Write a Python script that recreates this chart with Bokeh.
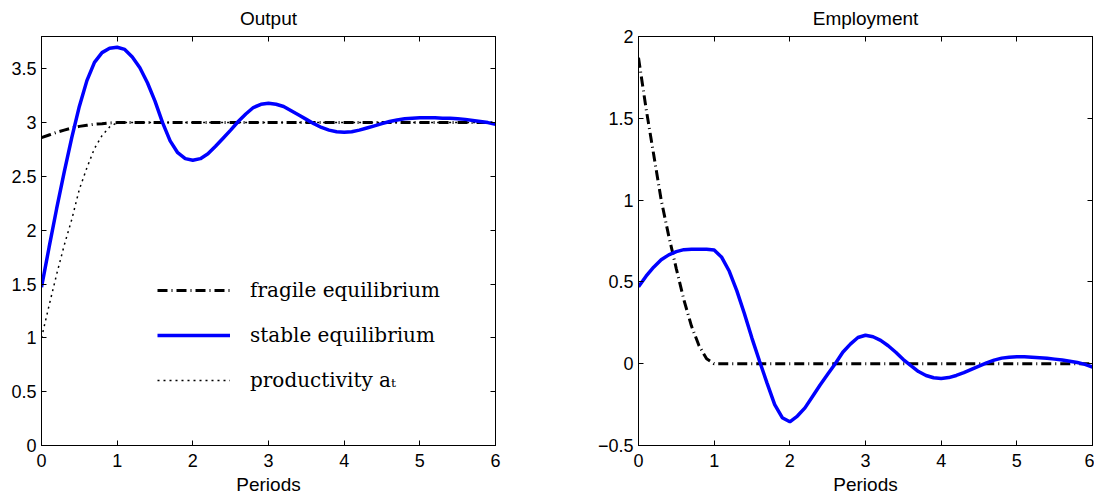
from bokeh.plotting import figure
from bokeh.models import LinearAxis, FixedTicker, Legend, LegendItem, Range1d
from bokeh.layouts import row
from bokeh.embed import file_html
from bokeh.resources import INLINE

# ---------------- data ----------------
periods = [0.0, 0.1, 0.2, 0.3, 0.4, 0.5, 0.6, 0.7, 0.8, 0.9,
           1.0, 1.1, 1.2, 1.3, 1.4, 1.5, 1.6, 1.7, 1.8, 1.9,
           2.0, 2.1, 2.2, 2.3, 2.4, 2.5, 2.6, 2.7, 2.8, 2.9,
           3.0, 3.1, 3.2, 3.3, 3.4, 3.5, 3.6, 3.7, 3.8, 3.9,
           4.0, 4.1, 4.2, 4.3, 4.4, 4.5, 4.6, 4.7, 4.8, 4.9,
           5.0, 5.1, 5.2, 5.3, 5.4, 5.5, 5.6, 5.7, 5.8, 5.9, 6.0]

output_stable = [1.47, 1.84, 2.20, 2.54, 2.86, 3.15, 3.39, 3.56, 3.65, 3.69,
                 3.70, 3.68, 3.61, 3.51, 3.37, 3.20, 3.00, 2.83, 2.72, 2.665,
                 2.65, 2.665, 2.71, 2.78, 2.855, 2.93, 3.01, 3.08, 3.14, 3.17,
                 3.18, 3.17, 3.15, 3.11, 3.07, 3.03, 2.99, 2.955, 2.93, 2.915,
                 2.91, 2.915, 2.93, 2.95, 2.97, 2.99, 3.01, 3.025, 3.035, 3.04,
                 3.045, 3.045, 3.045, 3.04, 3.04, 3.035, 3.03, 3.02, 3.01, 3.0, 2.985]

employment_stable = [0.47, 0.535, 0.59, 0.635, 0.665, 0.685, 0.697, 0.70, 0.70, 0.70,
                     0.695, 0.65, 0.565, 0.445, 0.305, 0.155, 0.015, -0.12, -0.25, -0.33,
                     -0.355, -0.32, -0.27, -0.20, -0.13, -0.065, 0.0, 0.07, 0.12, 0.16,
                     0.174, 0.165, 0.143, 0.11, 0.07, 0.025, -0.012, -0.048, -0.072, -0.086,
                     -0.09, -0.085, -0.072, -0.055, -0.035, -0.015, 0.005, 0.022, 0.034, 0.04,
                     0.042, 0.042, 0.04, 0.037, 0.033, 0.028, 0.022, 0.015, 0.007, -0.004, -0.02]

fragile_t = [0.0, 0.1, 0.2, 0.3, 0.4, 0.5, 0.6, 0.7, 0.8, 0.9, 1.0, 6.0]
output_fragile = [2.86, 2.885, 2.91, 2.93, 2.95, 2.965, 2.975, 2.985, 2.99, 2.997, 3.0, 3.0]
employment_fragile = [1.87, 1.56, 1.28, 1.0, 0.78, 0.58, 0.39, 0.23, 0.11, 0.03, 0.0, 0.0]

productivity_t = [0.0, 0.1, 0.2, 0.3, 0.4, 0.5, 0.6, 0.7, 0.8, 0.9, 1.0, 6.0]
productivity = [1.0, 1.30, 1.59, 1.86, 2.10, 2.38, 2.58, 2.76, 2.88, 2.96, 3.0, 3.0]

x_ticks = [0, 1, 2, 3, 4, 5, 6]
x_labels = ["0", "1", "2", "3", "4", "5", "6"]
out_y_ticks = [0, 0.5, 1, 1.5, 2, 2.5, 3, 3.5]
out_y_labels = ["0", "0.5", "1", "1.5", "2", "2.5", "3", "3.5"]
emp_y_ticks = [-0.5, 0, 0.5, 1, 1.5, 2]
emp_y_labels = ["\u22120.5", "0", "0.5", "1", "1.5", "2"]

legend_labels = ["fragile equilibrium", "stable equilibrium", "productivity a\u209c"]

SANS = "Liberation Sans"
TICK_SIZE = "18px"
LABEL_SIZE = "19px"


def style_axis(ax):
    ax.axis_line_color = "black"
    ax.axis_line_width = 1
    ax.major_tick_in = 5
    ax.major_tick_out = 0
    ax.major_tick_line_color = "black"
    ax.minor_tick_line_color = None
    ax.major_label_text_font = SANS
    ax.major_label_text_color = "black"


def make_fig(title, y_range, y_ticks, y_labels, border_left, border_right):
    p = figure(frame_width=454, frame_height=409,
               x_range=Range1d(0, 6), y_range=Range1d(*y_range),
               output_backend="svg", toolbar_location=None,
               min_border_left=border_left, min_border_right=border_right,
               min_border_top=36, min_border_bottom=52, title=title)
    p.title.align = "center"
    p.title.vertical_align = "top"
    p.title.text_font = SANS
    p.title.text_font_size = LABEL_SIZE
    p.title.text_font_style = "normal"
    p.title.text_color = "black"
    p.title.standoff = 12
    p.grid.visible = False
    p.outline_line_color = "black"
    p.outline_line_alpha = 1.0
    p.outline_line_width = 1
    p.background_fill_color = "white"
    p.border_fill_color = "white"

    bottom = p.below[0]
    left = p.left[0]

    bottom.ticker = FixedTicker(ticks=x_ticks)
    bottom.major_label_overrides = dict(zip(x_ticks, x_labels))
    bottom.axis_label = "Periods"
    bottom.axis_label_text_font = SANS
    bottom.axis_label_text_font_size = LABEL_SIZE
    bottom.axis_label_text_font_style = "normal"
    bottom.axis_label_text_color = "black"
    bottom.axis_label_standoff = 4
    bottom.major_label_standoff = 8
    bottom.major_label_text_font_size = TICK_SIZE

    left.ticker = FixedTicker(ticks=y_ticks)
    left.major_label_overrides = dict(zip(y_ticks, y_labels))
    left.major_label_standoff = 5
    left.major_label_text_font_size = TICK_SIZE

    top = LinearAxis(ticker=FixedTicker(ticks=x_ticks),
                     major_label_overrides={t: "" for t in x_ticks},
                     major_label_standoff=0)
    right = LinearAxis(ticker=FixedTicker(ticks=y_ticks),
                       major_label_overrides={t: "" for t in y_ticks},
                       major_label_standoff=0)
    p.add_layout(top, "above")
    p.add_layout(right, "right")

    for ax in (bottom, left, top, right):
        style_axis(ax)
    return p


# ---------------- Output panel ----------------
p1 = make_fig("Output", (0, 3.8), out_y_ticks, out_y_labels, 41, 99)
r_prod = p1.line(productivity_t, productivity, line_color="black", line_width=1.5,
                 line_dash="2 4")
r_frag = p1.line(fragile_t, output_fragile, line_color="black", line_width=3,
                 line_dash="10 4 1 4")
r_stab = p1.line(periods, output_stable, line_color="#0000ff", line_width=3.5)

legend = Legend(items=[LegendItem(label=legend_labels[0], renderers=[r_frag]),
                       LegendItem(label=legend_labels[1], renderers=[r_stab]),
                       LegendItem(label=legend_labels[2], renderers=[r_prod])],
                location=(116, 53), orientation="vertical")
legend.border_line_color = None
legend.background_fill_alpha = 0
legend.padding = 0
legend.margin = 0
legend.glyph_width = 73
legend.glyph_height = 22
legend.label_height = 22
legend.spacing = 21
legend.label_standoff = 20
legend.label_text_font = "DejaVu Serif"
legend.label_text_font_size = "20px"
legend.label_text_color = "black"
p1.add_layout(legend)

# ---------------- Employment panel ----------------
p2 = make_fig("Employment", (-0.5, 2), emp_y_ticks, emp_y_labels, 44, 2)
p2.line(fragile_t, employment_fragile, line_color="black", line_width=3,
        line_dash="10 4 1 4")
p2.line(periods, employment_stable, line_color="#0000ff", line_width=3.5)

layout = row(p1, p2)
open("out.html", "w").write(file_html(layout, INLINE))
